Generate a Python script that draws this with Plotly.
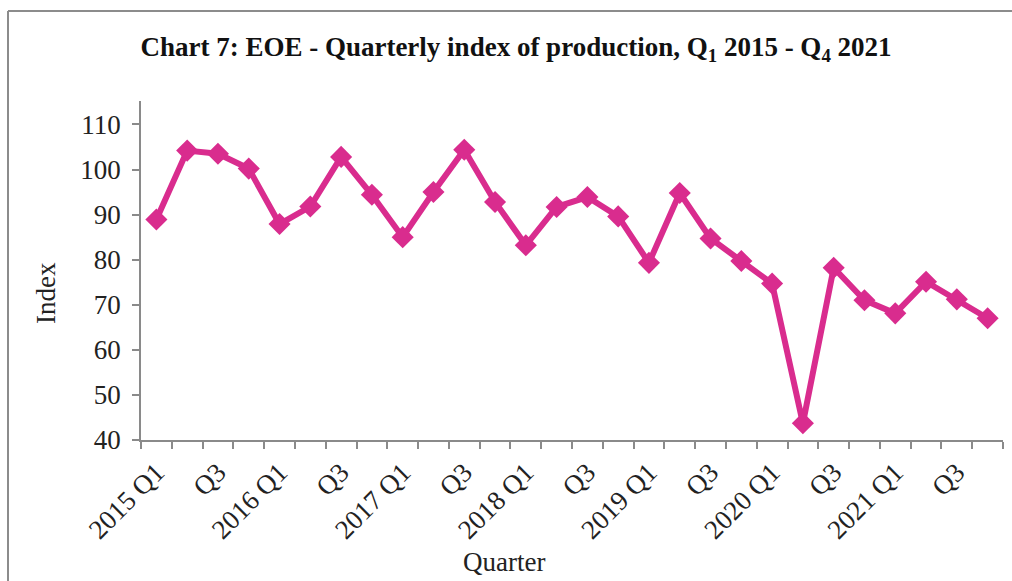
import plotly.graph_objects as go

quarters = [f"{y} Q{q}" for y in range(2015, 2022) for q in range(1, 5)]
values = [88.9, 104.2, 103.5, 100.2, 87.9, 91.8, 102.8, 94.4, 85.0, 95.0, 104.4, 92.8,
          83.2, 91.7, 93.9, 89.6, 79.3, 94.8, 84.7, 79.7, 74.7, 43.7, 78.2, 71.0,
          68.1, 75.1, 71.2, 67.0]
label_text = ["2015 Q1", "Q3", "2016 Q1", "Q3", "2017 Q1", "Q3", "2018 Q1", "Q3",
              "2019 Q1", "Q3", "2020 Q1", "Q3", "2021 Q1", "Q3"]
y_ticks = [40, 50, 60, 70, 80, 90, 100, 110]

xpos = list(range(len(quarters)))
label_pos = xpos[::2]

LINE = "#D92C8E"
AX = "#8A8A8A"
FONT = "Liberation Serif"
W, H = 1012, 581
ML, MR, MT, MB = 141, 9, 101, 141
pw = W - ML - MR
ph = H - MT - MB


def px_x(px):
    return (px - ML) / pw


def px_y(py):
    return (H - MB - py) / ph


fig = go.Figure()
fig.add_trace(go.Scatter(
    x=xpos, y=values, mode="lines+markers",
    line=dict(color=LINE, width=6),
    marker=dict(symbol="diamond", size=17, color=LINE),
    text=quarters, hovertemplate="%{text}: %{y}<extra></extra>",
    showlegend=False,
))

fig.update_layout(
    width=W, height=H,
    paper_bgcolor="white", plot_bgcolor="white",
    margin=dict(l=ML, r=MR, t=MT, b=MB, autoexpand=False),
    font=dict(family=FONT, color="#222222"),
    title=dict(
        text="<b>Chart 7: EOE - Quarterly index of production, Q<sub>1</sub> 2015 - Q<sub>4</sub> 2021</b>",
        x=516 / W, xref="container", xanchor="center",
        y=1 - 47 / H, yref="container", yanchor="middle",
        font=dict(family=FONT, size=27, color="#111111"),
    ),
    xaxis=dict(
        range=[-0.5, len(quarters) - 0.5],
        tickmode="array", tickvals=label_pos, ticktext=label_text,
        tickangle=-45, ticks="", ticklen=0,
        tickfont=dict(family=FONT, size=27, color="#222222"),
        showline=True, linecolor=AX, linewidth=1.5,
        showgrid=False, zeroline=False, automargin=False,
        ticklabelstandoff=4,
        minor=dict(ticks="outside", ticklen=7, tickcolor=AX, tickwidth=1.5,
                   tick0=-0.5, dtick=1, showgrid=False),
    ),
    yaxis=dict(
        range=[40, 115.2],
        tickmode="array", tickvals=y_ticks,
        ticks="outside", ticklen=7, tickcolor=AX, tickwidth=1.5,
        tickfont=dict(family=FONT, size=27, color="#222222"),
        showline=True, linecolor=AX, linewidth=1.5,
        showgrid=False, zeroline=False, automargin=False,
        ticklabelstandoff=6,
    ),
    annotations=[
        dict(text="Index", x=px_x(46), y=px_y(293), xref="paper", yref="paper",
             xanchor="center", yanchor="middle",
             showarrow=False, textangle=-90, font=dict(family=FONT, size=27, color="#222222")),
        dict(text="Quarter", x=px_x(504), y=px_y(562), xref="paper", yref="paper",
             xanchor="center", yanchor="middle",
             showarrow=False, font=dict(family=FONT, size=27, color="#222222")),
    ],
)

# outer chart frame: only top and left edges are visible in the reference
frame = dict(color="#8C8C8C", width=2)
fig.add_shape(type="line", xref="paper", yref="paper",
              x0=px_x(8), x1=px_x(1030), y0=px_y(11), y1=px_y(11), line=frame)
fig.add_shape(type="line", xref="paper", yref="paper",
              x0=px_x(8), x1=px_x(8), y0=px_y(11), y1=px_y(600), line=frame)

fig.write_html("out.html", config={"displayModeBar": False},
               post_script="document.body.style.margin='0';")
